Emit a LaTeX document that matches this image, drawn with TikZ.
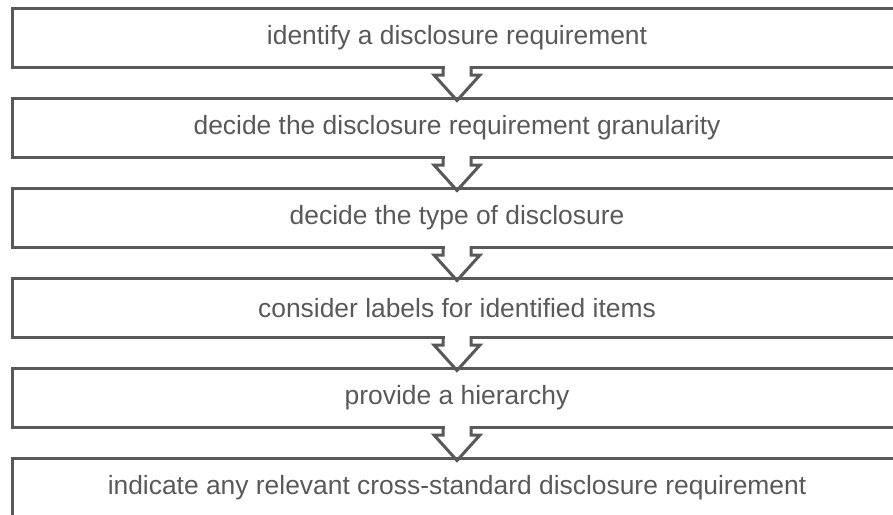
\documentclass[tikz,border=0pt]{standalone}
\usepackage{fontspec}
\setmainfont{Liberation Sans}
\usetikzlibrary{positioning,calc}

\definecolor{linegray}{RGB}{89,89,89}
\definecolor{textgray}{RGB}{89,89,89}

\begin{document}
\begin{tikzpicture}[x=1pt,y=1pt,
    stepbox/.style={draw=linegray, line width=3pt, minimum width=890pt,
      minimum height=59pt, inner sep=0pt, outer sep=0pt, text=textgray,
      font=\fontsize{26.4}{31}\selectfont},
    downarrow/.style={draw=linegray, line width=3pt}]
  \def\gap{31pt}
  \useasboundingbox (0,0) rectangle (893,-514);
  \clip (0,0) rectangle (893,-514);
  \node[stepbox] (identify) at (457,-38) {identify a disclosure requirement};
  \node[stepbox, below=\gap of identify] (granularity) {decide the disclosure requirement granularity};
  \node[stepbox, below=\gap of granularity] (type) {decide the type of disclosure};
  \node[stepbox, below=\gap of type] (labels) {consider labels for identified items};
  \node[stepbox, below=\gap of labels] (hierarchy) {provide a hierarchy};
  \node[stepbox, below=\gap of hierarchy] (crossstd) {indicate any relevant cross-standard disclosure requirement};
  % open arrows between the steps
  \foreach \a/\b in {identify/granularity, granularity/type, type/labels,
                     labels/hierarchy, hierarchy/crossstd}{
    \fill[white] ($(\a.south)+(-12.5,2)$) rectangle ($(\a.south)+(12.5,-1.6)$);
    \draw[downarrow] ($(\a.south)+(-14,1.5)$) -- ++(0,-9) -- ++(-9,0)
      -- ($(\b.north)+(0,-2)$) -- ($(\a.south)+(23,-7.5)$) -- ++(-9,0) -- ++(0,9);
  }
\end{tikzpicture}
\end{document}
